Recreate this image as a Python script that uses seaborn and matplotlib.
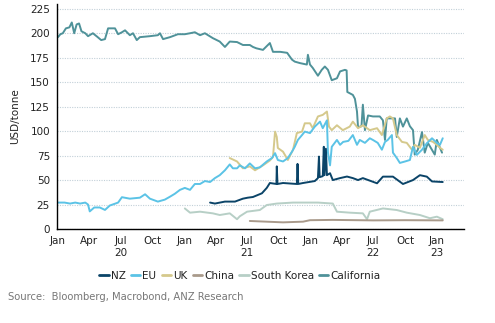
import matplotlib
matplotlib.use("Agg")
import matplotlib.pyplot as plt
import seaborn as sns
import pandas as pd
from matplotlib.lines import Line2D

sns.set_style("white")
plt.rcParams['font.family'] = ['DejaVu Sans']

# ---------------- data ----------------
cal_dates = ["2020-01-01","2020-01-08","2020-01-15","2020-01-24","2020-02-03","2020-02-10","2020-02-17",
             "2020-02-24","2020-03-02","2020-03-09","2020-03-20","2020-03-28","2020-04-11","2020-04-25",
             "2020-05-05","2020-05-16","2020-05-25","2020-06-14","2020-06-23","2020-07-04","2020-07-13",
             "2020-07-27","2020-08-05","2020-08-16","2020-08-25","2020-09-23","2020-10-16","2020-10-22",
             "2020-10-31","2020-11-20","2020-12-13","2021-01-02","2021-01-17","2021-01-31","2021-02-15",
             "2021-03-01","2021-03-24","2021-04-13","2021-04-28","2021-05-12","2021-06-02","2021-06-19",
             "2021-07-09","2021-07-18","2021-07-28","2021-08-16","2021-09-05","2021-09-14","2021-10-05",
             "2021-10-25","2021-11-08","2021-11-16","2021-12-01","2021-12-21","2021-12-24","2021-12-30",
             "2022-01-07","2022-01-22","2022-02-02","2022-02-11","2022-02-20","2022-03-03","2022-03-18",
             "2022-03-27","2022-04-10","2022-04-15","2022-04-17","2022-05-03","2022-05-09","2022-05-15",
             "2022-05-18","2022-05-28","2022-06-01","2022-06-07","2022-06-16","2022-06-30","2022-07-20",
             "2022-07-29","2022-08-04","2022-08-09","2022-09-02","2022-09-07","2022-09-16","2022-09-25",
             "2022-10-06","2022-10-15","2022-10-24","2022-10-29","2022-11-07","2022-11-19","2022-11-27",
             "2022-12-06","2022-12-26","2023-01-01","2023-01-10","2023-01-16"]
cal_vals = [196,199,200,205,206,211,200,
            209,210,202,200,197,200,196,
            193,194,205,205,199,201,203,
            198,200,193,196,197,198,200,
            194,196,199,199,200,201,198,
            200,195,191.5,186,191.5,191,188,
            188,186,184.6,183,190,181,181,
            180,173,171,169.5,168,178,168,
            164.6,156.6,162.6,166,162.6,152,154,
            161,162.6,162,140,137,133,120,
            104,105,127,101,116,115,115,
            111,91,113,113,94,113,104.6,
            113,105,101,76,81,99,78,
            88,76,91,83,78]

eu_dates = ["2020-01-01","2020-01-20","2020-02-05","2020-02-20","2020-03-05","2020-03-20","2020-03-28",
            "2020-04-02","2020-04-15","2020-05-01","2020-05-16","2020-05-30","2020-06-23","2020-07-04",
            "2020-07-27","2020-08-25","2020-09-09","2020-09-23","2020-10-16","2020-11-05","2020-11-20",
            "2020-12-04","2020-12-19","2021-01-02","2021-01-17","2021-01-31","2021-02-15","2021-03-01",
            "2021-03-16","2021-03-30","2021-04-13","2021-04-28","2021-05-12","2021-05-21","2021-06-02",
            "2021-06-10","2021-06-25","2021-07-09","2021-07-24","2021-08-07","2021-08-27","2021-09-11",
            "2021-09-20","2021-09-28","2021-10-13","2021-10-27","2021-11-08","2021-11-16","2021-11-25",
            "2021-12-07","2021-12-15","2021-12-30","2022-01-13","2022-01-28","2022-02-05","2022-02-17",
            "2022-02-20","2022-02-26","2022-03-03","2022-03-18","2022-03-27","2022-04-05","2022-04-20",
            "2022-05-03","2022-05-15","2022-05-23","2022-06-07","2022-06-21","2022-06-30","2022-07-14",
            "2022-07-26","2022-08-04","2022-08-12","2022-08-24","2022-08-27","2022-09-07","2022-09-16",
            "2022-10-01","2022-10-15","2022-10-24","2022-11-04","2022-11-19","2022-12-03","2022-12-18",
            "2023-01-01","2023-01-10","2023-01-18"]
eu_vals = [27,27,26,27,26,27,25,
           18,22,22,19.5,24,27,32.5,
           31,32,35.5,31,28,30,33,
           36,40,42,40,46,46,49,
           48,52,55,60,66,62,62,
           65,62,67,62,63,69,72.5,
           77.5,70.5,69,72.5,79,84,91,
           96,99.5,98,104.6,109.7,103,111,
           78,65,84,91,86,89,90,
           96,86,91,88,92.7,91,88,
           81,89,91,96,78,72.6,67.5,
           69,70.5,84,75.7,81,87.6,92.7,
           88,86,92.7]

uk_dates = ["2021-05-12","2021-06-02","2021-06-19","2021-07-09","2021-07-24","2021-08-16","2021-09-05",
            "2021-09-14","2021-09-20","2021-09-25","2021-09-28","2021-10-13","2021-10-27","2021-11-11",
            "2021-11-22","2021-12-07","2021-12-15","2021-12-30","2022-01-07","2022-01-22","2022-02-05",
            "2022-02-17","2022-02-23","2022-03-03","2022-03-18","2022-04-04","2022-04-24","2022-05-03",
            "2022-05-18","2022-06-01","2022-06-21","2022-07-12","2022-07-26","2022-08-09","2022-08-18",
            "2022-08-27","2022-09-07","2022-09-22","2022-10-06","2022-10-21","2022-10-29","2022-11-13",
            "2022-11-27","2022-12-06","2022-12-21","2023-01-01","2023-01-10","2023-01-18"]
uk_vals = [72.5,69,62,64,60,65,70,
           73.6,99.5,94,82.8,79,70.5,81,
           98,99.5,108,108,103,115,116.6,
           120,104.6,101,106,101,104.6,109.7,
           103,106,101,103,96,113,115,
           113,96,89,88,81,86,83,
           96,91,89,86,83,81]

nz_dates = ["2021-03-16","2021-03-30","2021-04-28","2021-05-27","2021-06-19","2021-07-03","2021-07-18",
            "2021-08-13","2021-08-27","2021-09-05","2021-09-24","2021-09-25","2021-09-27","2021-10-13",
            "2021-11-22","2021-11-24","2021-11-26","2021-12-10","2022-01-13","2022-01-22","2022-01-25",
            "2022-01-27","2022-02-05","2022-02-08","2022-02-10","2022-02-14","2022-02-17","2022-02-26",
            "2022-03-06","2022-03-27","2022-04-16","2022-05-03","2022-05-18","2022-06-01","2022-07-12",
            "2022-07-29","2022-08-27","2022-09-25","2022-10-24","2022-11-13","2022-12-03","2022-12-18",
            "2023-01-18"]
nz_vals = [27,26,28,28,31,32,32.7,
           36.5,42,47,46,64,46,47,
           46,66.5,46,47,49,52,74,
           53,54,84,55,82,55,57,
           50,52,53.6,52,50,52,46.7,
           53.5,53.5,46,50,55,53.5,48.6,
           48]

cn_dates = ["2021-07-09","2021-10-13","2021-12-10","2021-12-30","2022-03-06","2022-07-01","2022-10-01","2023-01-18"]
cn_vals = [8.2,6.8,7.5,9,9.3,8.8,9.0,8.8]

sk_dates = ["2021-01-02","2021-01-17","2021-02-15","2021-03-24","2021-04-13","2021-05-12","2021-06-02",
            "2021-06-10","2021-07-01","2021-08-07","2021-08-27","2021-09-25","2021-11-11","2022-01-22",
            "2022-03-06","2022-03-18","2022-04-24","2022-06-01","2022-06-13","2022-06-21","2022-07-29",
            "2022-09-07","2022-10-06","2022-11-13","2022-12-12","2023-01-01","2023-01-18"]
sk_vals = [21,16.7,17.7,16,14.3,16,10,
           13,17.7,19.4,24.5,26,27,27,
           26,17.7,16.7,16,10,17.7,21,
           19.4,16.7,14.3,11,12.6,10]

series_names = ["NZ", "EU", "UK", "China", "South Korea", "California"]
colors = ["#0b4468", "#5bc3e6", "#d5c98c", "#a99a8b", "#b7cfc6", "#4f9299"]
tick_labels = ["Jan", "Apr", "Jul\n20", "Oct", "Jan", "Apr", "Jul\n21", "Oct",
               "Jan", "Apr", "Jul\n22", "Oct", "Jan\n23"]

frames = []
for name, d, v in [("NZ", nz_dates, nz_vals), ("EU", eu_dates, eu_vals), ("UK", uk_dates, uk_vals),
                   ("China", cn_dates, cn_vals), ("South Korea", sk_dates, sk_vals),
                   ("California", cal_dates, cal_vals)]:
    frames.append(pd.DataFrame({"date": pd.to_datetime(d), "value": v, "series": name}))
df = pd.concat(frames, ignore_index=True)

# ---------------- plot ----------------
fig = plt.figure(figsize=(4.95, 3.23), dpi=100)
ax = fig.add_axes([0.115, 0.291, 0.822, 0.697])

draw_order = ["California", "South Korea", "China", "UK", "EU", "NZ"]
palette = dict(zip(series_names, colors))
for name in draw_order:
    sub = df[df.series == name]
    sns.lineplot(data=sub, x="date", y="value", ax=ax, color=palette[name],
                 lw=1.4, estimator=None, sort=True, legend=False)

ax.set_ylim(0, 230)
ax.set_xlim(pd.Timestamp("2019-12-29"), pd.Timestamp("2023-03-20"))
ax.set_yticks(range(0, 226, 25))
ax.yaxis.grid(True, color="#c2d0d8", linestyle=(0, (1, 1.2)), lw=0.8)
ax.xaxis.grid(False)

ticks = pd.date_range("2020-01-01", "2023-01-01", freq="QS")
ax.set_xticks(ticks)
ax.set_xticklabels(tick_labels)
for s in ["top", "right"]:
    ax.spines[s].set_visible(False)
for s in ["left", "bottom"]:
    ax.spines[s].set_color("black")
    ax.spines[s].set_linewidth(1.0)
ax.tick_params(axis="both", which="both", labelsize=7.5, colors="#222222",
               direction="out", length=3, width=0.8, pad=2)
ax.set_xlabel("")
ax.set_ylabel("USD/tonne", fontsize=7.5, color="#222222", labelpad=7)

handles = [Line2D([0], [0], color=c, lw=2) for c in colors]
fig.legend(handles, series_names, loc="center", bbox_to_anchor=(0.485, 0.146), ncol=6,
           frameon=False, fontsize=7.5, handlelength=0.9, handletextpad=0.2,
           columnspacing=0.5, labelcolor="#222222")

fig.text(0.016, 0.08, "Source:  Bloomberg, Macrobond, ANZ Research", fontsize=7.2,
         color="#777777", va="center", ha="left")

fig.savefig("out.png", dpi=100)
